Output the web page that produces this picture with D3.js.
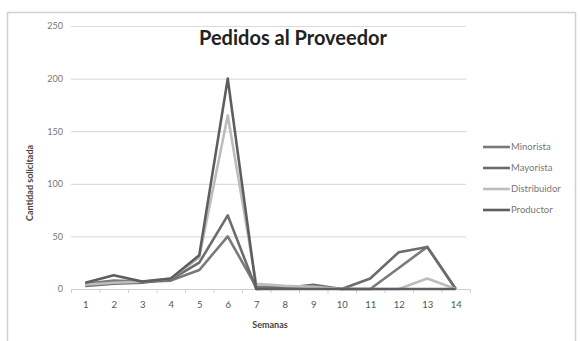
<!DOCTYPE html>
<html>
<head>
<meta charset="utf-8">
<script src="https://cdn.jsdelivr.net/npm/d3@7"></script>
<style>
  body { margin: 0; background: #fff; }
  text { font-family: Lato, "Open Sans", sans-serif; }
</style>
</head>
<body>
<div id="chart"></div>
<script>
// Data
var semanas = [1, 2, 3, 4, 5, 6, 7, 8, 9, 10, 11, 12, 13, 14];
var yTicks = [0, 50, 100, 150, 200, 250];
var minorista    = [5, 8, 7, 8, 18, 50, 2, 2, 2, 0, 0, 20, 40, 0];
var mayorista    = [3, 5, 6, 9, 25, 70, 0, 1, 4, 0, 10, 35, 40, 0];
var distribuidor = [4, 6, 7, 10, 30, 165, 5, 3, 2, 0, 0, 0, 10, 0];
var productor    = [6, 13, 7, 10, 32, 200, 0, 0, 0, 0, 0, 0, 0, 0];
var seriesNames = ["Minorista", "Mayorista", "Distribuidor", "Productor"];

var series = [
  {name: seriesNames[0], values: minorista, color: "#7a7a7a"},
  {name: seriesNames[1], values: mayorista, color: "#6c6c6c"},
  {name: seriesNames[2], values: distribuidor, color: "#bdbdbd"},
  {name: seriesNames[3], values: productor, color: "#5e5e5e"}
];

// Chart config
var W = 580, H = 341;
var plot = {left: 71, right: 470, top: 26, bottom: 289};

var svg = d3.select("#chart").append("svg")
    .attr("width", W).attr("height", H);

// outer frame
svg.append("rect")
    .attr("x", 7.5).attr("y", 12.5)
    .attr("width", 568).attr("height", 330)
    .attr("fill", "#fff").attr("stroke", "#d0d0d0").attr("stroke-width", 1.5);

var x = d3.scalePoint().domain(semanas)
    .range([plot.left, plot.right]).padding(0.5);
var y = d3.scaleLinear().domain([0, 250]).range([plot.bottom, plot.top]);

// grid
var yAxis = d3.axisLeft(y).tickValues(yTicks)
    .tickSize(-(plot.right - plot.left - 4)).tickPadding(8);
var yg = svg.append("g")
    .attr("transform", "translate(" + plot.left + ",0)")
    .call(yAxis);
yg.select(".domain").remove();
yg.selectAll(".tick line").attr("stroke", "#dcdcdc").attr("stroke-width", 1.2);
yg.selectAll(".tick text").attr("fill", "#777").style("font-size", "9px");

// x axis
var step = x.step();
var xAxis = d3.axisBottom(x).tickSize(4).tickPadding(8);
var xg = svg.append("g")
    .attr("transform", "translate(0," + plot.bottom + ")")
    .call(xAxis);
xg.select(".domain").attr("stroke", "#cfcfcf");
xg.selectAll(".tick line").attr("stroke", "#cfcfcf")
    .attr("transform", "translate(" + (-step / 2) + ",0)");
xg.selectAll(".tick text").attr("fill", "#555").style("font-size", "9.5px");

// lines
var line = d3.line()
    .x(function(d, i) { return x(semanas[i]); })
    .y(function(d) { return y(d); });

svg.selectAll("path.serie")
    .data(series)
  .enter().append("path")
    .attr("class", "serie")
    .attr("fill", "none")
    .attr("stroke", function(d) { return d.color; })
    .attr("stroke-width", 2.6)
    .attr("stroke-linejoin", "round")
    .attr("d", function(d) { return line(d.values); });

// title
svg.append("text")
    .attr("x", 293).attr("y", 45)
    .attr("text-anchor", "middle")
    .attr("fill", "#222")
    .style("font-size", "20px").style("font-weight", "bold")
    .text("Pedidos al Proveedor");

// axis titles
svg.append("text")
    .attr("x", 270).attr("y", 328)
    .attr("text-anchor", "middle").attr("fill", "#444")
    .style("font-size", "9px").style("font-weight", "bold")
    .text("Semanas");

svg.append("text")
    .attr("transform", "translate(33,183) rotate(-90)")
    .attr("text-anchor", "middle").attr("fill", "#444")
    .style("font-size", "9px").style("font-weight", "bold")
    .text("Cantidad solicitada");

// legend
var legend = svg.selectAll("g.leg")
    .data(series)
  .enter().append("g")
    .attr("class", "leg")
    .attr("transform", function(d, i) { return "translate(483," + [147, 168, 189, 210][i] + ")"; });

legend.append("line")
    .attr("x1", 0).attr("x2", 27)
    .attr("stroke", function(d) { return d.color; })
    .attr("stroke-width", 2.6);

legend.append("text")
    .attr("x", 28).attr("dy", "0.35em")
    .attr("fill", "#777")
    .style("font-size", "9.5px")
    .text(function(d) { return d.name; });
</script>
</body>
</html>
